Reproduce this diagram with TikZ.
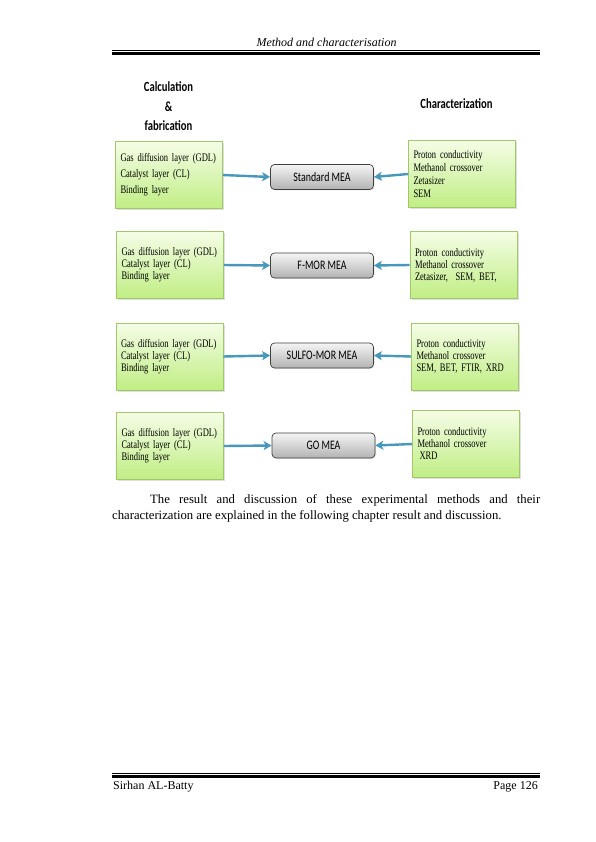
\documentclass[tikz,border=0pt]{standalone}
\usepackage{fontspec}
\setmainfont{Liberation Serif}
\newfontfamily\carlitonarrow[FakeStretch=0.76]{Carlito}
\newfontfamily\timesnarrow[FakeStretch=0.74]{Liberation Serif}
\usetikzlibrary{arrows.meta,shadows}

\definecolor{boxtop}{RGB}{245,253,230}
\definecolor{boxbottom}{RGB}{192,238,132}
\definecolor{boxline}{RGB}{160,200,105}
\definecolor{arrowblue}{RGB}{72,152,188}

\begin{document}
\begin{tikzpicture}[x=1pt, y=-1pt]
\tikzset{ >={Stealth[length=8pt,width=9pt,inset=2pt]},
  greenbox/.style={draw=boxline, line width=0.6pt, top color=boxtop, bottom color=boxbottom,
    minimum width=107pt, minimum height=67pt, text width=97pt, inner xsep=5pt, align=left,
    font=\timesnarrow\fontsize{11.5}{12}\selectfont,
    drop shadow={shadow xshift=1.5pt, shadow yshift=-1.5pt, opacity=0.25}},
  meabox/.style={draw=black!75, line width=0.7pt, rounded corners=4pt, top color=black!4, bottom color=black!30,
    minimum width=103pt, minimum height=25pt, inner sep=0pt,
    font=\carlitonarrow\fontsize{13}{14}\selectfont,
    drop shadow={shadow xshift=1pt, shadow yshift=-1pt, opacity=0.2}},
  heading/.style={font=\carlitonarrow\bfseries\fontsize{14}{19.5}\selectfont, align=center},
  link/.style={->, draw=arrowblue, line width=2.4pt},
}

\useasboundingbox [fill=white] (0,0) rectangle (595,842);

% page header
\node [font=\itshape\fontsize{12}{14}\selectfont] (HEAD) at (326.5,42) {Method and characterisation};
\draw [line width=0.7pt] (112,50.2) -- (540,50.2);
\draw [line width=3pt]   (112,53.4) -- (540,53.4);

% column titles
\node [heading] (CALC) at (168.5,106.5) {Calculation\\\&\\fabrication};
\node [heading] (CHAR) at (456.5,104) {Characterization};

% standard MEA
\node [greenbox, font=\timesnarrow\fontsize{11.5}{16}\selectfont] (L1) at (169,175)
  {Gas diffusion layer (GDL)\\Catalyst layer (CL)\\Binding layer};
\node [meabox] (M1) at (322,177) {Standard MEA};
\node [greenbox, font=\timesnarrow\fontsize{11.5}{12.8}\selectfont] (R1) at (462,174)
  {Proton conductivity\\Methanol crossover\\Zetasizer\\SEM};

% F-MOR MEA
\node [greenbox] (L2) at (170,265)
  {Gas diffusion layer (GDL)\\Catalyst layer (CL)\\Binding layer};
\node [meabox] (M2) at (322,265.5) {F-MOR MEA};
\node [greenbox] (R2) at (463.5,265)
  {Proton conductivity\\Methanol crossover\\Zetasizer,\ \ SEM, BET,};

% SULFO-MOR MEA
\node [greenbox] (L3) at (169.5,356.5)
  {Gas diffusion layer (GDL)\\Catalyst layer (CL)\\Binding layer};
\node [meabox] (M3) at (322,355.5) {SULFO-MOR MEA};
\node [greenbox] (R3) at (465,356.5)
  {Proton conductivity\\Methanol crossover\\SEM, BET, FTIR, XRD};

% GO MEA
\node [greenbox] (L4) at (170,446)
  {Gas diffusion layer (GDL)\\Catalyst layer (CL)\\Binding layer};
\node [meabox] (M4) at (323.5,445.5) {GO MEA};
\node [greenbox] (R4) at (466,444)
  {Proton conductivity\\Methanol crossover\\\hspace*{2pt}XRD};

\draw [link] (L1.east) -- (M1.west);
\draw [link] (R1.west) -- (M1.east);
\draw [link] (L2.east) -- (M2.west);
\draw [link] (R2.west) -- (M2.east);
\draw [link] (L3.east) -- (M3.west);
\draw [link] (R3.west) -- (M3.east);
\draw [link] (L4.east) -- (M4.west);
\draw [link] (R4.west) -- (M4.east);

% text below the figure
\node [anchor=north west, text width=428pt, inner sep=0pt, align=justify,
  font=\fontsize{12.7}{16.5}\selectfont] (PARA) at (112,494)
  {\hspace*{38pt}The result and discussion of these experimental methods and their\linebreak
   characterization are explained in the following chapter result and discussion.};

% page footer
\draw [line width=0.7pt] (112,773.4) -- (540,773.4);
\draw [line width=2.8pt] (112,776.2) -- (540,776.2);
\node [anchor=base west, inner sep=0pt, font=\fontsize{12}{14}\selectfont] (AUTH) at (113,789) {Sirhan AL-Batty};
\node [anchor=base east, inner sep=0pt, font=\fontsize{12}{14}\selectfont] (PAGE) at (538,789) {Page 126};

\end{tikzpicture}
\end{document}
